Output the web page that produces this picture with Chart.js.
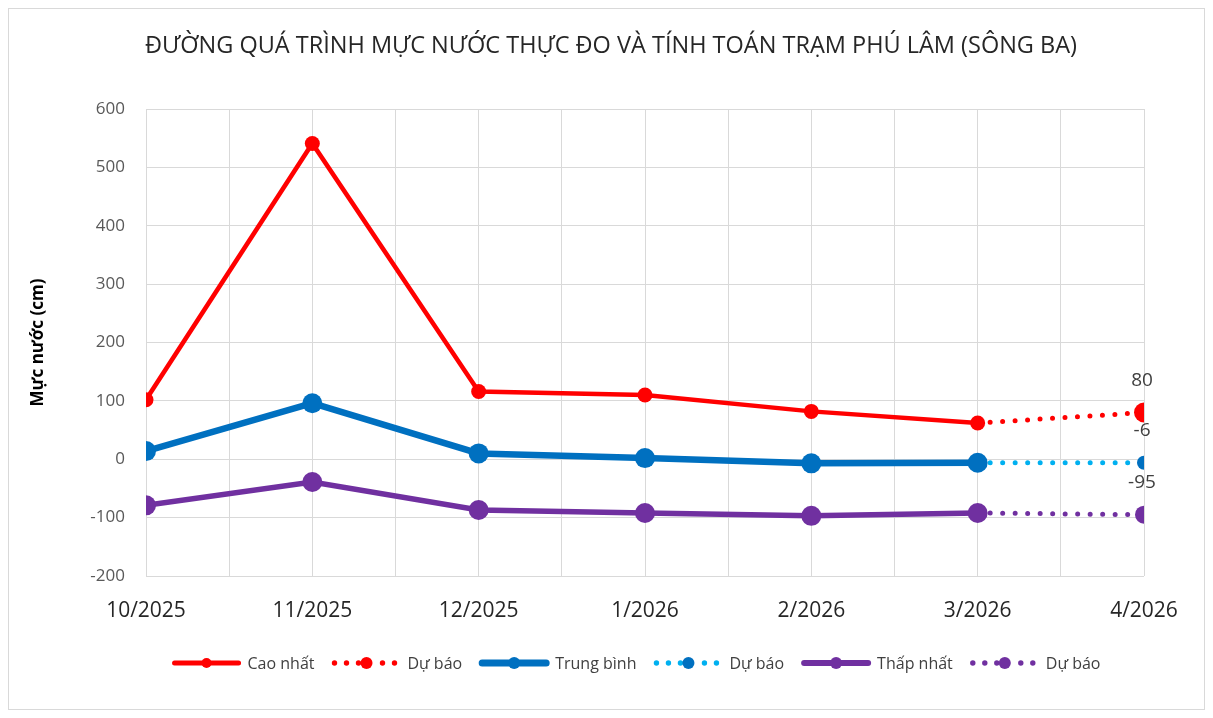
<!DOCTYPE html>
<html>
<head>
<meta charset="utf-8">
<script src="https://cdn.jsdelivr.net/npm/chart.js@4.4.1/dist/chart.umd.min.js"></script>
<style>
  html, body { margin: 0; padding: 0; background: #ffffff; }
  #wrap { width: 1213px; height: 718px; position: relative; }
</style>
</head>
<body>
<div id="wrap"><canvas id="waterChart"></canvas></div>
<script>
// Month labels on the x axis
const months = ['10/2025', '11/2025', '12/2025', '1/2026', '2/2026', '3/2026', '4/2026'];

// Measured values (cm)
const highValues = [102, 541, 116, 110, 82, 62];
const meanValues = [14, 96, 10, 2, -7, -6];
const lowValues = [-79, -39, -87, -92, -97, -92];

// Forecast: last measured month -> forecast month
const highForecast = [62, 80];
const meanForecast = [-6, -6];
const lowForecast = [-92, -95];

const yTicks = [-200, -100, 0, 100, 200, 300, 400, 500, 600];

const titleText = 'ĐƯỜNG QUÁ TRÌNH MỰC NƯỚC THỰC ĐO VÀ TÍNH TOÁN TRẠM PHÚ LÂM (SÔNG BA)';

const RED = '#ff0000';
const BLUE = '#0070c0';
const LIGHT_BLUE = '#00b0f0';
const PURPLE = '#7030a0';

// turn a list into {x, y} points, starting at month index `start`
function toPoints(values, start) {
    return values.map((v, i) => ({ x: start + i, y: v }));
}

const fcStart = months.length - 2;

const legendItems = [
    { text: 'Cao nhất', color: RED, dot: RED, dotted: false, width: 5, r: 5 },
    { text: 'Dự báo', color: RED, dot: RED, dotted: true, width: 5, r: 6 },
    { text: 'Trung bình', color: BLUE, dot: BLUE, dotted: false, width: 7, r: 6 },
    { text: 'Dự báo', color: LIGHT_BLUE, dot: BLUE, dotted: true, width: 5, r: 6 },
    { text: 'Thấp nhất', color: PURPLE, dot: PURPLE, dotted: false, width: 6, r: 6 },
    { text: 'Dự báo', color: PURPLE, dot: PURPLE, dotted: true, width: 5, r: 6 }
];

// Frame, title, legend and end-point labels
const decorPlugin = {
    id: 'decor',
    afterDraw(chart) {
        const ctx = chart.ctx;
        ctx.save();

        // outer frame
        ctx.strokeStyle = '#d9d9d9';
        ctx.lineWidth = 1;
        ctx.strokeRect(8.5, 8.5, 1196, 701);

        // title
        ctx.fillStyle = '#262626';
        ctx.font = '23.5px "Open Sans", sans-serif';
        ctx.textAlign = 'center';
        ctx.textBaseline = 'middle';
        ctx.fillText(titleText, 611, 46, 933);

        // value labels on forecast end points
        ctx.font = '19px "Open Sans", sans-serif';
        ctx.fillStyle = '#404040';
        ctx.textBaseline = 'middle';
        [0, 1, 2].forEach(k => {
            const dsIndex = k * 2 + 1;
            const meta = chart.getDatasetMeta(dsIndex);
            const pt = meta.data[meta.data.length - 1];
            const val = chart.data.datasets[dsIndex].data[meta.data.length - 1].y;
            ctx.fillText(String(val), pt.x - 2, pt.y - 32);
        });

        // legend
        ctx.font = '16px "Open Sans", sans-serif';
        ctx.textAlign = 'left';
        const sample = 70, gap = 6, spacing = 17;
        let total = 0;
        legendItems.forEach(it => { total += sample + gap + ctx.measureText(it.text).width; });
        total += spacing * (legendItems.length - 1);
        let x = 636 - total / 2;
        const y = 663;
        legendItems.forEach(it => {
            if (it.dotted) {
                ctx.fillStyle = it.color;
                for (let d = 3; d <= sample; d += 12) {
                    if (Math.abs(d - sample / 2) < 8) continue;
                    ctx.beginPath();
                    ctx.arc(x + d, y, 2.7, 0, Math.PI * 2);
                    ctx.fill();
                }
            } else {
                ctx.strokeStyle = it.color;
                ctx.lineWidth = it.width;
                ctx.lineCap = 'round';
                ctx.beginPath();
                ctx.moveTo(x + 3, y);
                ctx.lineTo(x + sample - 3, y);
                ctx.stroke();
            }
            ctx.fillStyle = it.dot;
            ctx.beginPath();
            ctx.arc(x + sample / 2, y, it.r, 0, Math.PI * 2);
            ctx.fill();
            ctx.fillStyle = '#404040';
            ctx.fillText(it.text, x + sample + gap, y + 1);
            x += sample + gap + ctx.measureText(it.text).width + spacing;
        });

        ctx.restore();
    }
};

const dotted = {
    borderDash: [0, 12.5],
    borderCapStyle: 'round',
    borderWidth: 5
};

const ctx = document.getElementById('waterChart').getContext('2d');
const chart = new Chart(ctx, {
    type: 'line',
    data: {
        datasets: [
            {
                label: 'Cao nhất',
                data: toPoints(highValues, 0),
                borderColor: RED, backgroundColor: RED, pointBorderWidth: 0,
                borderWidth: 4.5, pointRadius: 7.5, order: 1
            },
            {
                label: 'Dự báo',
                data: toPoints(highForecast, fcStart),
                borderColor: RED, backgroundColor: RED, pointBorderWidth: 0,
                ...dotted, pointRadius: [0, 10], order: 4
            },
            {
                label: 'Trung bình',
                data: toPoints(meanValues, 0),
                borderColor: BLUE, backgroundColor: BLUE, pointBorderWidth: 0,
                borderWidth: 6.5, pointRadius: 10, order: 2
            },
            {
                label: 'Dự báo',
                data: toPoints(meanForecast, fcStart),
                borderColor: LIGHT_BLUE, backgroundColor: BLUE, pointBackgroundColor: BLUE,
                pointBorderWidth: 0,
                ...dotted, pointRadius: [0, 7], order: 5
            },
            {
                label: 'Thấp nhất',
                data: toPoints(lowValues, 0),
                borderColor: PURPLE, backgroundColor: PURPLE, pointBorderWidth: 0,
                borderWidth: 5.5, pointRadius: 10, order: 3
            },
            {
                label: 'Dự báo',
                data: toPoints(lowForecast, fcStart),
                borderColor: PURPLE, backgroundColor: PURPLE, pointBorderWidth: 0,
                ...dotted, pointRadius: [0, 9], order: 6
            }
        ]
    },
    options: {
        responsive: true,
        maintainAspectRatio: false,
        animation: false,
        layout: { padding: { top: 109, right: 69, bottom: 82, left: 0 } },
        elements: {
            point: { borderWidth: 0, hoverRadius: 9 },
            line: { tension: 0 }
        },
        plugins: {
            legend: { display: false },
            title: { display: false },
            tooltip: { enabled: false }
        },
        scales: {
            x: {
                type: 'linear',
                min: 0,
                max: months.length - 1,
                afterBuildTicks: scale => {
                    const t = [];
                    for (let v = 0; v <= months.length - 1; v += 0.5) t.push({ value: v });
                    scale.ticks = t;
                },
                afterFit: scale => { scale.height = 60; },
                grid: { color: '#d9d9d9', lineWidth: 1, drawTicks: false },
                border: { display: false },
                ticks: {
                    autoSkip: false,
                    maxRotation: 0,
                    padding: 22,
                    color: '#262626',
                    font: { family: '"Open Sans", sans-serif', size: 21 },
                    callback: v => Number.isInteger(v) ? months[v] : ''
                }
            },
            y: {
                min: yTicks[0],
                max: yTicks[yTicks.length - 1],
                afterBuildTicks: scale => { scale.ticks = yTicks.map(v => ({ value: v })); },
                afterFit: scale => { scale.width = 146; },
                grid: { color: '#d9d9d9', lineWidth: 1, drawTicks: false },
                border: { display: false },
                ticks: {
                    padding: 21,
                    color: '#595959',
                    font: { family: '"Open Sans", sans-serif', size: 17 }
                },
                title: {
                    display: true,
                    text: 'Mực nước (cm)',
                    color: '#000000',
                    padding: { top: 28, bottom: 0 },
                    font: { family: '"Open Sans", sans-serif', size: 17, weight: 'bold' }
                }
            }
        }
    },
    plugins: [decorPlugin]
});
</script>
</body>
</html>
